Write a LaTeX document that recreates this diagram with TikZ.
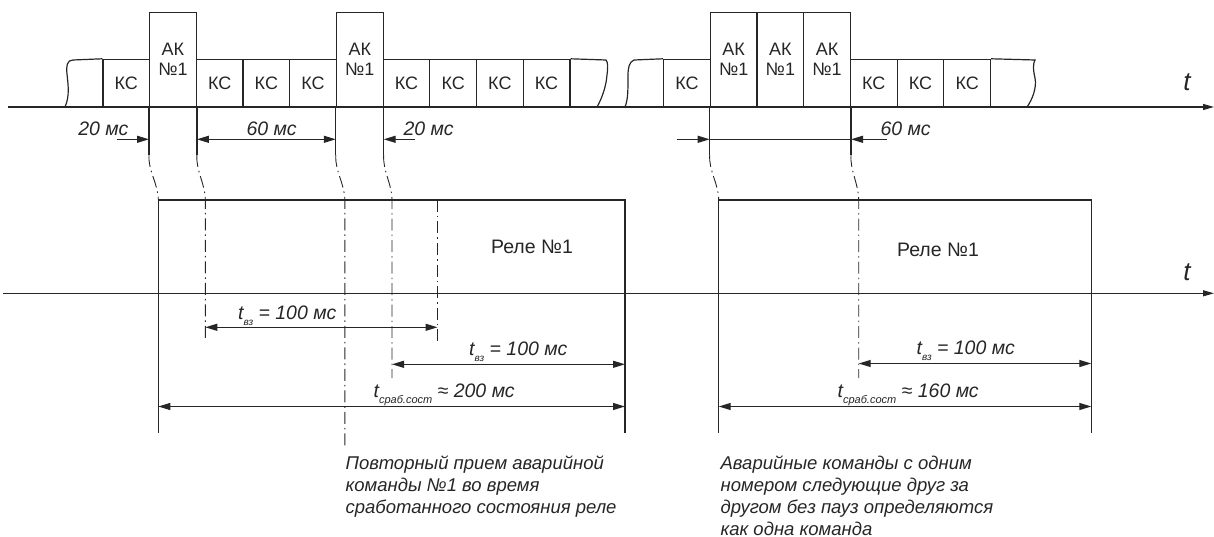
\documentclass[tikz,border=0pt]{standalone}
\usepackage{fontspec}
\setmainfont{Liberation Sans}
\usetikzlibrary{arrows.meta}
\begin{document}
\begin{tikzpicture}[x=1pt,y=-1pt,line width=1.2pt,color=black!85,
  kc/.style={draw,minimum width=46.7pt,minimum height=47pt,inner sep=0pt,anchor=south west,font=\fontsize{18}{20}\selectfont},
  ak/.style={draw,minimum width=46.7pt,minimum height=94pt,inner sep=0pt,anchor=south west,align=center,font=\fontsize{18}{20}\selectfont},
  tip/.style={-{Triangle[length=12pt,width=7pt]}},
  both/.style={{Triangle[length=12pt,width=7pt]}-{Triangle[length=12pt,width=7pt]}},
  dd/.style={line width=0.9pt,dash pattern=on 12pt off 4pt on 1.5pt off 4pt},
  lbl/.style={font=\fontsize{19.5}{22}\selectfont\itshape,inner sep=0pt,anchor=base west},
  relay/.style={font=\fontsize{19.5}{22}\selectfont,inner sep=0pt},
  axlbl/.style={font=\fontsize{26}{26}\selectfont\itshape,inner sep=0pt},
  btxt/.style={font=\fontsize{18.5}{21.8}\selectfont\itshape,inner sep=0pt,align=left,anchor=north west}]
\useasboundingbox (0,0) rectangle (1214,537);

% ---------- top signal ----------
\node[kc] (k1) at (102.3,107) {КС};
\node[ak] (a1) at (149,107) {АК\\№1};
\node[kc] (k2) at (195.7,107) {КС};
\node[kc] (k3) at (242.4,107) {КС};
\node[kc] (k4) at (289.1,107) {КС};
\node[ak] (a2) at (335.8,107) {АК\\№1};
\node[kc] (k5) at (382.5,107) {КС};
\node[kc] (k6) at (429.2,107) {КС};
\node[kc] (k7) at (475.9,107) {КС};
\node[kc] (k8) at (522.6,107) {КС};

\node[kc] (m1) at (663,107) {КС};
\node[ak] (b1) at (709.7,107) {АК\\№1};
\node[ak] (b2) at (756.4,107) {АК\\№1};
\node[ak] (b3) at (803.1,107) {АК\\№1};
\node[kc] (m2) at (849.8,107) {КС};
\node[kc] (m3) at (896.5,107) {КС};
\node[kc] (m4) at (943.2,107) {КС};

% broken ends
\coordinate (w1) at (73,60);
\draw (k1.north west) -- (w1) .. controls (67,60) and (66,66) .. (67,74) .. controls (68,84) and (70,96) .. (65,107);
\coordinate (w2) at (606,60);
\draw (k8.north east) -- (w2) .. controls (608,62) and (608,68) .. (607,75) .. controls (606,88) and (601,100) .. (597,107);
\coordinate (w3) at (634,60);
\draw (m1.north west) -- (w3) .. controls (629,62) and (628,68) .. (628,76) .. controls (628,90) and (628,100) .. (625,107);
\coordinate (w4) at (1035,60);
\draw (m4.north east) -- (w4) .. controls (1033,63) and (1033,70) .. (1035,78) .. controls (1037,88) and (1032,100) .. (1027,107);

% time axes
\coordinate (ax1s) at (8,107);
\coordinate (ax1e) at (1214,107);
\draw[-{Triangle[length=11pt,width=6pt]}] (ax1s) -- (ax1e);
\node[axlbl] (t1) at (1187,82) {t};
\coordinate (ax2s) at (3,293.3);
\coordinate (ax2e) at (1214,293.3);
\draw[-{Triangle[length=11pt,width=6pt]}] (ax2s) -- (ax2e);
\node[axlbl] (t2) at (1187,272) {t};

% extension lines
\draw (a1.south west) -- ++(0,48) coordinate (e1);
\draw (a1.south east) -- ++(0,48) coordinate (e2);
\draw (a2.south west) -- ++(0,48) coordinate (e3);
\draw (a2.south east) -- ++(0,48) coordinate (e4);
\draw (b1.south west) -- ++(0,48) coordinate (e5);
\draw (b3.south east) -- ++(0,48) coordinate (e6);

% top dimensions
\coordinate (d1) at (116.7,139.3);
\draw[tip] (d1) -- (a1.south west |- d1);
\draw[both] (a1.south east |- d1) -- (a2.south west |- d1);
\coordinate (d2) at (415,139.3);
\draw[tip] (d2) -- (a2.south east |- d1);
\coordinate (d3) at (676.7,139.3);
\draw[tip] (d3) -- (b1.south west |- d1);
\draw (b1.south west |- d1) -- (b3.south east |- d1);
\coordinate (d4) at (886.7,139.3);
\draw[tip] (d4) -- (b3.south east |- d1);
\node[lbl] (l1) at (77.7,135.5) {20 мс};
\node[lbl] (l2) at (246,135.5) {60 мс};
\node[lbl] (l3) at (403,135.5) {20 мс};
\node[lbl] (l4) at (880,135.5) {60 мс};

% relay states
\coordinate (r1a) at (158.3,200);
\coordinate (r1b) at (625,200);
\coordinate (r1c) at (158.3,433);
\coordinate (r1d) at (625,433);
\draw (r1c) -- (r1a) -- (r1b) -- (r1d);
\node[relay] (rl1) at (532,246.5) {Реле №1};
\coordinate (r2a) at (718.7,200);
\coordinate (r2b) at (1091.3,200);
\coordinate (r2c) at (718.7,433);
\coordinate (r2d) at (1091.3,433);
\draw (r2c) -- (r2a) -- (r2b) -- (r2d);
\node[relay] (rl2) at (938,250) {Реле №1};

% dash-dot projections
\coordinate (c2) at (205.3,200);
\coordinate (c3) at (344.8,200);
\coordinate (c4) at (392,200);
\coordinate (c6) at (858.7,200);
\coordinate (c7) at (437.5,200);
\coordinate (f2) at (205.3,341);
\coordinate (f3) at (344.8,447);
\coordinate (f4) at (392,378);
\coordinate (f6) at (858.7,378);
\coordinate (f7) at (437.5,342);
\draw[dd] (e1) .. controls +(-1,16) and +(0,-16) .. (r1a);
\draw[dd] (e2) .. controls +(-1,16) and +(0,-16) .. (c2) -- (f2);
\draw[dd] (e3) .. controls +(-1,16) and +(0,-16) .. (c3) -- (f3);
\draw[dd] (e4) .. controls +(-1,16) and +(0,-16) .. (c4) -- (f4);
\draw[dd] (e5) .. controls +(-1,16) and +(0,-16) .. (r2a);
\draw[dd] (e6) .. controls +(-1,16) and +(0,-16) .. (c6) -- (f6);
\draw[dd] (c7) -- (f7);

% lower dimensions
\coordinate (g1) at (205.3,327.3);
\draw[both] (g1) -- (c7 |- g1);
\coordinate (g2) at (392,364.3);
\draw[both] (g2) -- (r1b |- g2);
\coordinate (g3) at (158.3,406.5);
\draw[both] (g3) -- (r1b |- g3);
\coordinate (g4) at (858.7,363.5);
\draw[both] (g4) -- (r2b |- g4);
\coordinate (g5) at (718.7,406.5);
\draw[both] (g5) -- (r2b |- g5);

\node[lbl] (tv1) at (237.5,319) {t\raisebox{-6pt}{\fontsize{10}{10}\selectfont вз} = 100 мс};
\node[lbl] (tv2) at (468.6,355) {t\raisebox{-6pt}{\fontsize{10}{10}\selectfont вз} = 100 мс};
\node[lbl] (tv3) at (916,354) {t\raisebox{-6pt}{\fontsize{10}{10}\selectfont вз} = 100 мс};
\node[lbl] (ts1) at (373,397.5) {t\raisebox{-6pt}{\fontsize{11}{11}\selectfont сраб.сост} ≈ 200 мс};
\node[lbl] (ts2) at (837,397) {t\raisebox{-6pt}{\fontsize{11}{11}\selectfont сраб.сост} ≈ 160 мс};

% notes
\node[btxt] (n1) at (345,455.5) {Повторный прием аварийной\\команды №1 во время\\сработанного состояния реле};
\node[btxt] (n2) at (720,455.5) {Аварийные команды с одним\\номером следующие друг за\\другом без пауз определяются\\как одна команда};
\end{tikzpicture}
\end{document}
